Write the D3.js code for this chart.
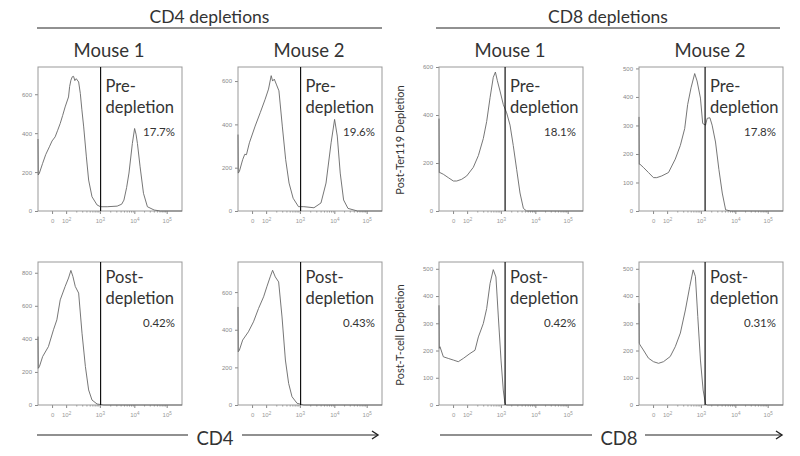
<!DOCTYPE html>
<html><head><meta charset="utf-8">
<script src="https://cdn.jsdelivr.net/npm/d3@7"></script>
<style>body{margin:0;background:#fff} svg{display:block;font-family:Lato,"Open Sans",sans-serif}</style>
</head><body><svg id="c" width="800" height="456"></svg>
<script>
// ---------- data ----------
const groupTitles = ["CD4 depletions", "CD8 depletions"];
const mice = ["Mouse 1", "Mouse 2", "Mouse 1", "Mouse 2"];
const markers = ["CD4", "CD8"];
const stageTop = [["Pre-", "depletion"], ["Post-", "depletion"]];
const rowTitles = ["Post-Ter119 Depletion", "Post-T-cell Depletion"];
const percents = [["17.7%", "19.6%", "18.1%", "17.8%"], ["0.42%", "0.43%", "0.42%", "0.31%"]];
const yMax = [[740, 665, 600, 505], [865, 760, 525, 525]];
const yTickVals = [
  [[0,200,400,600],[0,200,400,600],[0,200,400,600],[0,100,200,300,400,500]],
  [[0,200,400,600,800],[0,200,400,600],[0,100,200,300,400,500],[0,100,200,300,400,500]]
];
const xTickBase = ["0", "10", "10", "10", "10"];
const xTickExp = ["", "2", "3", "4", "5"];
const xTickChannels = [100, 200, 440, 685, 915];   // channel (0-1024) positions of the tick labels
const gateChannel = [445, 445, 470, 470];

// histograms: [channel, count]
const cd4M1Pre = [[0,370],[2,185],[10,195],[33,245],[55,290],[81,330],[100,360],[122,381],[140,415],[158,450],[175,490],[193,535],[217,586],[225,640],[234,672],[244,690],[253,692],[262,670],[272,680],[289,663],[301,604],[312,520],[325,432],[344,278],[360,159],[384,73],[420,31],[444,22],[492,22],[563,25],[595,35],[611,56],[630,120],[647,195],[671,347],[687,424],[697,395],[707,347],[726,227],[750,91],[778,22],[826,5],[870,0],[1024,0]];
const cd4M2Pre = [[0,353],[2,175],[10,183],[33,237],[48,262],[60,260],[81,315],[122,392],[158,454],[193,516],[217,563],[236,625],[246,600],[258,609],[272,586],[291,555],[315,392],[339,237],[363,129],[392,59],[430,20],[468,20],[540,15],[590,37],[626,129],[662,315],[687,423],[706,346],[727,175],[751,51],[782,12],[850,0],[1024,0]];
const cd8M1Pre = [[0,385],[2,160],[7,160],[31,153],[66,139],[102,125],[126,125],[161,132],[197,146],[244,182],[280,231],[315,302],[339,373],[363,472],[386,557],[401,579],[415,543],[434,500],[457,444],[481,409],[505,358],[528,273],[552,174],[576,75],[600,11],[623,0],[1024,0]];
const cd8M2Pre = [[0,330],[2,164],[7,164],[31,153],[67,135],[103,117],[126,117],[162,123],[210,135],[258,182],[294,230],[325,289],[346,373],[370,432],[396,482],[413,456],[437,396],[453,307],[473,301],[485,325],[504,327],[520,301],[544,242],[568,146],[592,63],[616,4],[652,0],[1024,0]];
const cd4M1Post = [[0,414],[2,222],[10,232],[33,293],[74,353],[110,455],[134,515],[158,636],[193,717],[217,768],[234,814],[248,778],[265,717],[289,677],[313,434],[337,232],[360,91],[384,30],[420,6],[468,0],[1024,0]];
const cd4M2Post = [[0,521],[2,283],[10,292],[33,345],[74,389],[110,442],[146,513],[182,575],[205,628],[229,681],[246,716],[265,681],[289,654],[313,468],[337,239],[360,115],[384,44],[420,9],[468,0],[1024,0]];
const cd8M1Post = [[0,366],[2,208],[7,214],[31,177],[66,171],[102,165],[137,159],[173,171],[220,189],[256,201],[280,250],[315,299],[339,354],[363,446],[386,497],[405,470],[422,323],[441,165],[457,55],[469,6],[481,0],[1024,0]];
const cd8M2Post = [[0,374],[2,227],[7,221],[31,202],[67,172],[103,159],[139,153],[174,159],[222,178],[258,214],[294,264],[330,349],[361,435],[385,496],[401,472],[418,325],[437,165],[456,55],[473,4],[485,0],[1024,0]];
const histograms = [[cd4M1Pre, cd4M2Pre, cd8M1Pre, cd8M2Pre], [cd4M1Post, cd4M2Post, cd8M1Post, cd8M2Post]];

// ---------- layout ----------
const colLeft = [38, 238, 439, 639];
const boxW = 144;
const rowTop = [67, 262];
const boxH = [144, 143];
const txt = "#333";

const svg = d3.select("#c");
svg.append("rect").attr("width", 800).attr("height", 456).attr("fill", "#fff");

// minor ticks (between decades)
const minorTicks = [];
for (let k = 1; k < 4; k++) {
  const a = xTickChannels[k], b = xTickChannels[k + 1];
  for (let m = 2; m <= 9; m++) minorTicks.push(a + Math.log10(m) * (b - a));
}

for (let r = 0; r < 2; r++) {
  for (let c = 0; c < 4; c++) {
    const x0 = colLeft[c], y0 = rowTop[r], h = boxH[r];
    const x = d3.scaleLinear().domain([0, 1024]).range([x0, x0 + boxW]);
    const y = d3.scaleLinear().domain([0, yMax[r][c]]).range([y0 + h, y0]);
    const g = svg.append("g");

    // y axis
    const yg = g.append("g").attr("transform", `translate(${x0},0)`)
      .call(d3.axisLeft(y).tickValues(yTickVals[r][c]).tickSize(3).tickPadding(3));
    yg.select(".domain").remove();
    yg.selectAll("line").attr("stroke", "#888");
    yg.selectAll("text").attr("font-size", 6).attr("fill", "#888");

    // x axis
    const xg = g.append("g").attr("transform", `translate(0,${y0 + h})`)
      .call(d3.axisBottom(x).tickValues(xTickChannels).tickSize(3).tickPadding(5).tickFormat(() => ""));
    xg.select(".domain").remove();
    xg.selectAll("line").attr("stroke", "#888");
    xg.selectAll(".tick text").each(function (d, i) {
      const t = d3.select(this).attr("font-size", 6).attr("fill", "#999");
      t.append("tspan").text(xTickBase[i]);
      if (xTickExp[i]) t.append("tspan").attr("dy", -2).attr("font-size", 4.5).text(xTickExp[i]);
    });
    const mg = g.append("g").attr("transform", `translate(0,${y0 + h})`)
      .call(d3.axisBottom(x).tickValues(minorTicks).tickSize(1.5).tickFormat(() => ""));
    mg.select(".domain").remove();
    mg.selectAll("line").attr("stroke", "#999");

    // box
    g.append("rect").attr("x", x0).attr("y", y0).attr("width", boxW).attr("height", h)
      .attr("fill", "none").attr("stroke", "#999").attr("stroke-width", 1);

    // histogram
    g.append("path").datum(histograms[r][c])
      .attr("d", d3.line().x(d => x(d[0])).y(d => y(d[1])))
      .attr("fill", "none").attr("stroke", "#666").attr("stroke-width", 0.9);

    // gate
    const gx = x(gateChannel[c]);
    g.append("line").attr("x1", gx).attr("x2", gx).attr("y1", y0).attr("y2", y0 + h)
      .attr("stroke", "#111").attr("stroke-width", 1.2);

    // gate labels
    const dy0 = r === 0 ? 25 : 21;
    g.append("text").attr("x", gx + 5).attr("y", y0 + dy0).attr("font-size", 16.5).attr("fill", txt).text(stageTop[r][0]);
    g.append("text").attr("x", gx + 5).attr("y", y0 + dy0 + 21).attr("font-size", 16.5).attr("fill", txt).text(stageTop[r][1]);
    g.append("text").attr("x", x0 + boxW - 7).attr("y", y0 + dy0 + 44).attr("text-anchor", "end")
      .attr("font-size", 11.5).attr("fill", txt).text(percents[r][c]);
  }
}

// mouse titles
mice.forEach((m, c) => {
  svg.append("text").attr("x", colLeft[c] + boxW / 2 - 1).attr("y", 57).attr("text-anchor", "middle")
    .attr("font-size", 18.5).attr("fill", txt).text(m);
});

// group titles with underline, bottom arrows
const groupSpan = [[37, 382], [436, 780]];
groupTitles.forEach((t, i) => {
  const [a, b] = groupSpan[i];
  svg.append("text").attr("x", (a + b) / 2).attr("y", 23).attr("text-anchor", "middle")
    .attr("font-size", 17.5).attr("fill", txt).text(t);
  svg.append("line").attr("x1", a).attr("x2", b).attr("y1", 28).attr("y2", 28)
    .attr("stroke", "#222").attr("stroke-width", 1);

  const cx = i === 0 ? 215 : 619;
  svg.append("text").attr("x", cx).attr("y", 445).attr("text-anchor", "middle")
    .attr("font-size", 18.5).attr("fill", txt).text(markers[i]);
  const la = i === 0 ? 37 : 440, lb = i === 0 ? 188 : 592;
  const ra = i === 0 ? 242 : 645, rb = i === 0 ? 378 : 782;
  svg.append("line").attr("x1", la).attr("x2", lb).attr("y1", 435).attr("y2", 435).attr("stroke", "#222").attr("stroke-width", 1.2);
  svg.append("line").attr("x1", ra).attr("x2", rb).attr("y1", 435).attr("y2", 435).attr("stroke", "#222").attr("stroke-width", 1.2);
  svg.append("path").attr("d", `M${rb - 6},${431} L${rb},${435} L${rb - 6},${439}`)
    .attr("fill", "none").attr("stroke", "#222").attr("stroke-width", 1.4);
});

// row titles (vertical)
const rowCenters = [140, 335];
rowTitles.forEach((t, r) => {
  svg.append("text").attr("transform", `translate(404,${rowCenters[r]}) rotate(-90)`)
    .attr("text-anchor", "middle").attr("font-size", 11).attr("fill", txt).text(t);
});
</script>
</body></html>
